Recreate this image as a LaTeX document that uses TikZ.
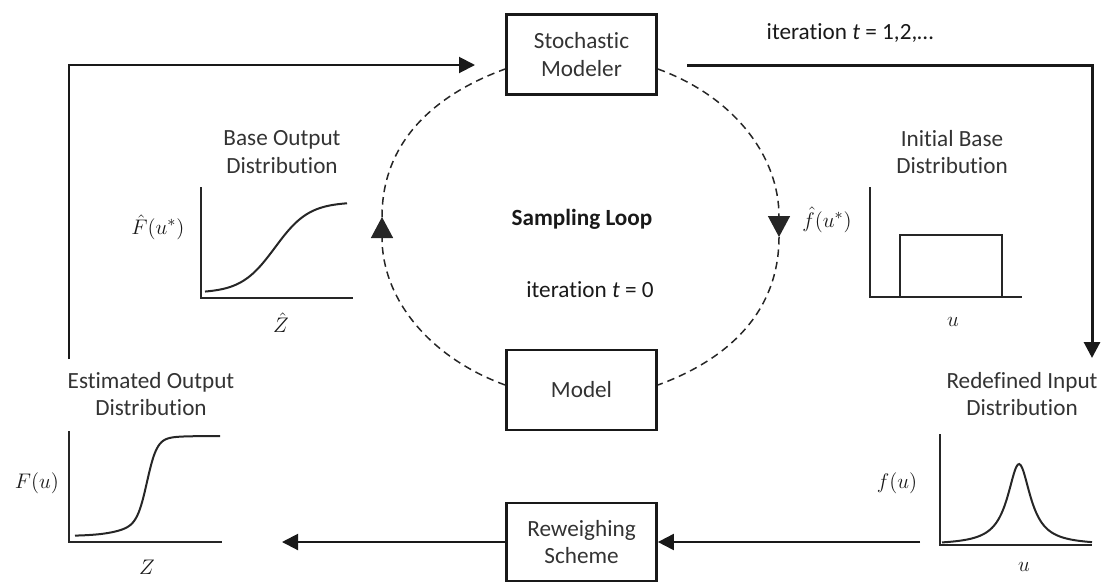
\documentclass[tikz,border=0pt]{standalone}
\usepackage{fontspec}
\setmainfont[Ligatures=NoCommon]{Carlito}
\usetikzlibrary{arrows.meta}

\begin{document}
\begin{tikzpicture}[
        x=0.02cm, y=-0.02cm,
        font=\fontsize{13.2}{15.9}\selectfont,
        block/.style={rectangle, draw=black!90, line width=0.055cm, minimum width=3.0cm,
                      minimum height=1.6cm, align=center, text=black!80},
        distname/.style={align=center, text=black!80},
        lbl/.style={text=black!90},
        arrow/.style={line width=0.04cm, black!90, -{Triangle[length=0.32cm, width=0.32cm]}},
        dashloop/.style={line width=0.03cm, black!85, dash pattern=on 0.15cm off 0.1cm},
        looparrow/.style={dashloop, -{Triangle[length=0.42cm, width=0.44cm]}},
        plotaxis/.style={line width=0.04cm, black!85},
        distcurve/.style={line width=0.04cm, black!85}
    ]
        \useasboundingbox (0,0) rectangle (1101,582);

        % blocks
        \node[block] (stoch) at (581.5,54.5) {Stochastic\\Modeler};
        \node[block] (model) at (581.5,390) {Model};
        \node[block, minimum height=1.56cm] (reweigh) at (581.5,542) {Reweighing\\Scheme};

        \node[lbl, font=\fontsize{13.2}{15.9}\selectfont\bfseries] (loopname) at (582,219) {Sampling Loop};
        \node[lbl] (iterzero) at (590,290) {iteration \textit{t} = 0};
        \node[lbl] (iternext) at (850,33) {iteration \textit{t} = 1,2,\ldots};

        % sampling loop
        \coordinate (loopL) at (382,217);
        \coordinate (loopR) at (779,237);
        \draw[looparrow] ([yshift=0.1cm]model.west) to[out=160, in=-90] (loopL);
        \draw[dashloop] (loopL) to[out=90, in=200] ([yshift=-0.29cm]stoch.west);
        \draw[looparrow] ([yshift=-0.29cm]stoch.east) to[out=-20, in=90] (loopR);
        \draw[dashloop] (loopR) to[out=-90, in=20] ([yshift=0.1cm]model.east);

        % outer loop
        \coordinate (outTop) at (69,359);
        \coordinate (stochIn) at (475,65);
        \coordinate (stochOut) at (687,65);
        \coordinate (inTop) at (1092,358);
        \coordinate (inOut) at (920,542);
        \coordinate (outIn) at (282,542);
        \draw[arrow] (outTop) |- (stochIn);
        \draw[arrow, line width=0.06cm] (stochOut) -| (inTop);
        \draw[arrow] (inOut) -- (reweigh.east);
        \draw[arrow] (reweigh.west) -- (outIn);

        % base output distribution
        \node[distname] (basetitle) at (282,152) {Base Output\\Distribution};
        \draw[plotaxis] (201,187) |- (353,298);
        \draw[distcurve] plot[domain=205:347, samples=60, smooth] (\x, {293-91/(1+exp(-(\x-275)/17))});
        \node[lbl] (baseylabel) at (158,227) {$\hat{F}(u^{*})$};
        \node[lbl] (basexlabel) at (281,323) {$\hat{Z}$};

        % initial base distribution
        \node[distname] (inittitle) at (952,152) {Initial Base\\Distribution};
        \draw[plotaxis] (870,187) |- (1022,297);
        \draw[distcurve, line width=0.05cm] (900,297) |- (1002,235) -- (1002,297);
        \node[lbl] (initylabel) at (827,220) {$\hat{f}(u^{*})$};
        \node[lbl] (initxlabel) at (953,322) {$u$};

        % estimated output distribution
        \node[distname] (esttitle) at (151,394) {Estimated Output\\Distribution};
        \draw[plotaxis] (69,431) |- (222,542);
        \draw[distcurve] plot[domain=75:220, samples=90, smooth]
            (\x, {536-16/(1+exp(min(9,-(\x-130)/15)))-84/(1+exp(min(9,-(\x-147)/5)))});
        \node[lbl] (estylabel) at (37,483) {$F(u)$};
        \node[lbl] (estxlabel) at (147,567) {$Z$};

        % redefined input distribution
        \node[distname] (redeftitle) at (1022,394) {Redefined Input\\Distribution};
        \draw[plotaxis] (940,434) |- (1092,545);
        \draw[distcurve] plot[domain=942:1092, samples=100, smooth] (\x, {545-81/(1+((\x-1019)/14)^2)});
        \node[lbl] (redefylabel) at (897,483) {$f(u)$};
        \node[lbl] (redefxlabel) at (1024,567) {$u$};
    \end{tikzpicture}
\end{document}
